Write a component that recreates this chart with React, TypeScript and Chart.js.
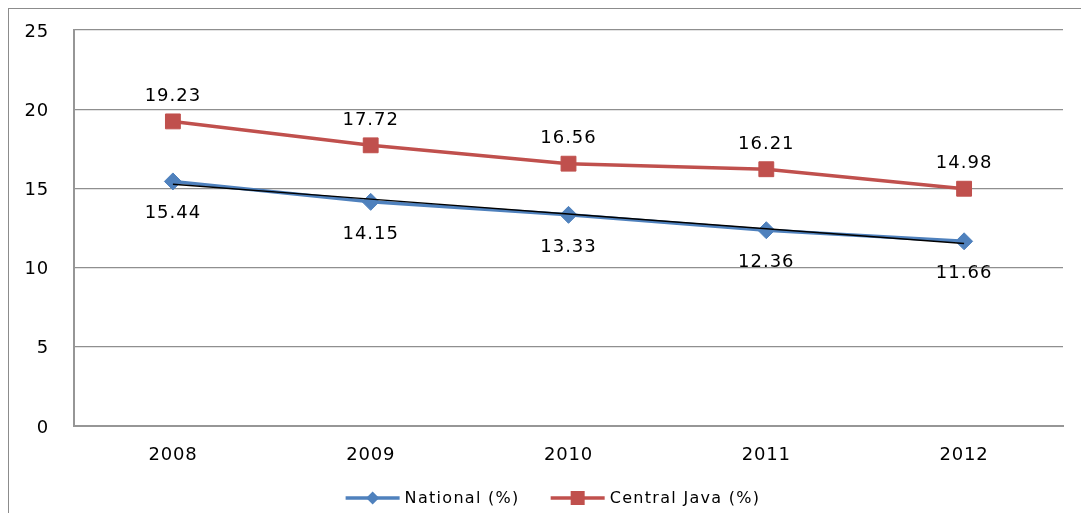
import React, { useEffect, useRef } from "react";
import { Chart, registerables } from "chart.js";

Chart.register(...registerables);

const years = ["2008", "2009", "2010", "2011", "2012"];
const national = [15.44, 14.15, 13.33, 12.36, 11.66];
const centralJava = [19.23, 17.72, 16.56, 16.21, 14.98];
const yTickValues = [0, 5, 10, 15, 20, 25];
const seriesNames = ["National (%)", "Central Java (%)"];

const BLUE = "#4F81BD";
const RED = "#C0504D";
const GRID = "#8f8f8f";
const AXIS = "#969696";
const FONT = "'DejaVu Sans', Verdana, sans-serif";

function linearTrend(vals: number[]): number[] {
  const n = vals.length;
  const mx = (n - 1) / 2;
  const my = vals.reduce((a, b) => a + b, 0) / n;
  let num = 0;
  let den = 0;
  vals.forEach((v, i) => {
    num += (i - mx) * (v - my);
    den += (i - mx) * (i - mx);
  });
  const slope = num / den;
  return vals.map((_, i) => my + slope * (i - mx));
}

const letterSpacingPlugin = {
  id: "letterSpacing",
  beforeDraw(chart: any) {
    (chart.ctx as any).letterSpacing = "0.8px";
  },
};

const dataLabelPlugin = {
  id: "dataLabels",
  afterDatasetsDraw(chart: any) {
    const ctx = chart.ctx;
    ctx.save();
    (ctx as any).letterSpacing = "1px";
    ctx.font = `18px ${FONT}`;
    ctx.fillStyle = "#000";
    ctx.textAlign = "center";
    ctx.textBaseline = "middle";
    chart.data.datasets.forEach((ds: any, i: number) => {
      if (ds.labelOffset === undefined) return;
      const meta = chart.getDatasetMeta(i);
      meta.data.forEach((pt: any, j: number) => {
        const v = ds.data[j];
        ctx.fillText(v.toFixed(2), pt.x, pt.y + ds.labelOffset);
      });
    });
    ctx.restore();
  },
};

const customLegendPlugin = {
  id: "customLegend",
  afterDraw(chart: any) {
    const ctx = chart.ctx;
    ctx.save();
    (ctx as any).letterSpacing = "1.3px";
    ctx.font = `16px ${FONT}`;
    const lineLen = 54;
    const gap = 5;
    const itemGap = 31;
    const items = [
      { name: seriesNames[0], color: BLUE, style: "rectRot", radius: 6.5 },
      { name: seriesNames[1], color: RED, style: "rect", radius: 7 },
    ];
    const widths = items.map((it) => ctx.measureText(it.name).width);
    const total = items.length * (lineLen + gap) + widths[0] + widths[1] + itemGap;
    let x = chart.width / 2 + 8 - total / 2;
    const y = 489;
    items.forEach((it, k) => {
      ctx.strokeStyle = it.color;
      ctx.lineWidth = 3.5;
      ctx.beginPath();
      ctx.moveTo(x, y);
      ctx.lineTo(x + lineLen, y);
      ctx.stroke();
      ctx.fillStyle = it.color;
      const cx = x + lineLen / 2;
      const r = it.radius;
      if (it.style === "rectRot") {
        ctx.beginPath();
        ctx.moveTo(cx - r, y);
        ctx.lineTo(cx, y - r);
        ctx.lineTo(cx + r, y);
        ctx.lineTo(cx, y + r);
        ctx.closePath();
        ctx.fill();
      } else {
        ctx.fillRect(cx - r, y - r, 2 * r, 2 * r);
      }
      ctx.fillStyle = "#000";
      ctx.textAlign = "left";
      ctx.textBaseline = "middle";
      ctx.fillText(it.name, x + lineLen + gap, y + 1);
      x += lineLen + gap + widths[k] + itemGap;
    });
    ctx.restore();
  },
};

export default function App() {
  const canvasRef = useRef<HTMLCanvasElement | null>(null);

  useEffect(() => {
    if (!canvasRef.current) return;
    const trend = linearTrend(national);
    const chart = new Chart(canvasRef.current, {
      type: "line",
      data: {
        labels: years,
        datasets: [
          {
            label: seriesNames[0],
            data: national,
            borderColor: BLUE,
            backgroundColor: BLUE,
            borderWidth: 3.5,
            pointStyle: "rectRot",
            pointRadius: 8.5,
            pointBorderWidth: 1,
            pointBackgroundColor: BLUE,
            pointBorderColor: BLUE,
            tension: 0,
            order: 2,
            labelOffset: 32,
          } as any,
          {
            label: seriesNames[1],
            data: centralJava,
            borderColor: RED,
            backgroundColor: RED,
            borderWidth: 3.5,
            pointStyle: "rect",
            pointRadius: 10.5,
            pointBorderWidth: 1,
            pointBackgroundColor: RED,
            pointBorderColor: RED,
            tension: 0,
            order: 1,
            labelOffset: -25,
          } as any,
          {
            label: "Linear (National (%))",
            data: trend,
            borderColor: "#000",
            borderWidth: 1.5,
            pointRadius: 0,
            tension: 0,
            order: 0,
          } as any,
        ],
      },
      options: {
        responsive: false,
        animation: false,
        devicePixelRatio: 1,
        layout: { padding: { top: 21, right: 18, left: 0, bottom: 0 } },
        plugins: {
          legend: { display: false },
          tooltip: { enabled: false },
          title: { display: false },
        },
        scales: {
          x: {
            type: "category",
            offset: true,
            grid: { display: false, drawTicks: false },
            border: { display: true, color: AXIS, width: 2 },
            ticks: {
              color: "#000",
              font: { family: FONT, size: 18 },
              padding: 19,
              maxRotation: 0,
            },
            afterFit: (scale: any) => {
              scale.height = 87;
              scale.paddingLeft = 0;
              scale.paddingRight = 0;
            },
          },
          y: {
            min: 0,
            max: 25,
            grid: { color: GRID, lineWidth: 1.2, drawTicks: false },
            border: { display: true, color: AXIS, width: 2 },
            afterBuildTicks: (scale: any) => {
              scale.ticks = yTickValues.map((v) => ({ value: v }));
            },
            ticks: {
              color: "#000",
              font: { family: FONT, size: 18 },
              padding: 25,
              labelOffset: 2,
            },
            afterFit: (scale: any) => {
              scale.width = 65;
              scale.paddingTop = 0;
              scale.paddingBottom = 0;
            },
          },
        },
      },
      plugins: [letterSpacingPlugin, dataLabelPlugin, customLegendPlugin],
    });
    return () => chart.destroy();
  }, []);

  return (
    <div
      style={{
        position: "fixed",
        left: 8,
        top: 8,
        width: 1073,
        height: 505,
        borderLeft: "1px solid #8c8c8c",
        borderTop: "1px solid #8c8c8c",
        background: "#fff",
        overflow: "hidden",
      }}
    >
      <canvas
        ref={canvasRef}
        width={1072}
        height={504}
        style={{ display: "block", width: 1072, height: 504 }}
      />
    </div>
  );
}
